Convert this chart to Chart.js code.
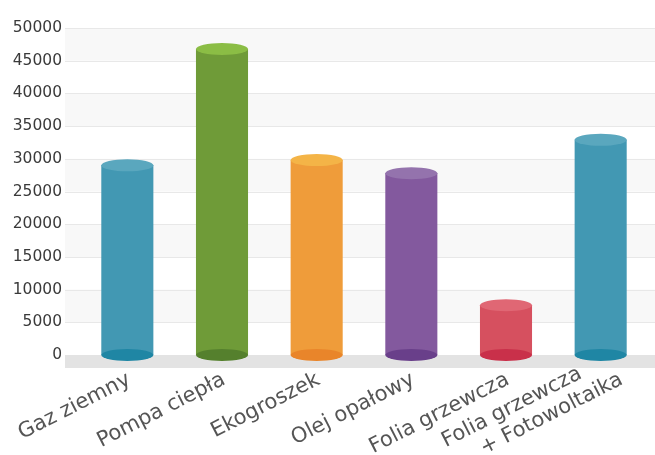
<!DOCTYPE html>
<html>
<head>
<meta charset="utf-8">
<script src="https://cdn.jsdelivr.net/npm/chart.js@4/dist/chart.umd.min.js"></script>
<style>
  html, body { margin: 0; padding: 0; background: #fff; }
  #wrap { width: 655px; height: 455px; }
</style>
</head>
<body>
<div id="wrap"><canvas id="chart" width="655" height="455"></canvas></div>
<script>
// koszty ogrzewania
const categories = [
  "Gaz ziemny",
  "Pompa ciepła",
  "Ekogroszek",
  "Olej opałowy",
  "Folia grzewcza",
  ["Folia grzewcza", "+ Fotowoltaika"],
];
const values = [29000, 46800, 29800, 27800, 7600, 32900];
const yTicks = [0, 5000, 10000, 15000, 20000, 25000, 30000, 35000, 40000, 45000, 50000];

// body, top, bottom colours per cylinder
const bodyColors = ["#4298b3", "#6f9b38", "#ef9c3a", "#83599e", "#d6505f", "#4298b3"];
const topColors = ["#5aa7be", "#8bbd45", "#f4b447", "#9473ad", "#e06774", "#5aa7be"];
const bottomColors = ["#1f86a4", "#55802d", "#e9852a", "#693f8a", "#c9304a", "#1f86a4"];

function shade(ctx, i) {
  const bar = ctx.chart.getDatasetMeta(0).data[i];
  if (!bar || !bar.width) return bodyColors[i];
  const g = ctx.chart.ctx.createLinearGradient(bar.x - bar.width / 2, 0, bar.x + bar.width / 2, 0);
  g.addColorStop(0, bodyColors[i]);
  g.addColorStop(0.35, topColors[i]);
  g.addColorStop(0.7, bodyColors[i]);
  g.addColorStop(1, bottomColors[i]);
  return g;
}

// background bands, grid lines and floor
const backdrop = {
  id: "backdrop",
  beforeDatasetsDraw(chart) {
    const c = chart.ctx;
    const y = chart.scales.y;
    const left = 65, right = chart.width;
    c.save();
    for (let i = 0; i < yTicks.length - 1; i++) {
      if ((yTicks.length - 2 - i) % 2 === 0) {
        const y1 = y.getPixelForValue(yTicks[i + 1]);
        const y0 = y.getPixelForValue(yTicks[i]);
        c.fillStyle = "#f8f8f8";
        c.fillRect(left, y1, right - left, y0 - y1);
      }
    }
    c.strokeStyle = "#e8e8e8";
    c.lineWidth = 1;
    yTicks.forEach((v) => {
      const py = Math.round(y.getPixelForValue(v)) + 0.5;
      c.beginPath();
      c.moveTo(left, py);
      c.lineTo(right, py);
      c.stroke();
    });
    const zero = y.getPixelForValue(0);
    c.fillStyle = "#e3e3e3";
    c.fillRect(left, zero, right - left, 13);
    c.restore();
  },
  afterDatasetsDraw(chart) {
    const c = chart.ctx;
    const ry = 6;
    c.save();
    chart.getDatasetMeta(0).data.forEach((bar, i) => {
      const rx = bar.width / 2;
      c.fillStyle = bottomColors[i];
      c.beginPath();
      c.ellipse(bar.x, bar.base, rx, ry, 0, 0, Math.PI * 2);
      c.fill();
      c.fillStyle = topColors[i];
      c.beginPath();
      c.ellipse(bar.x, bar.y, rx, ry, 0, 0, Math.PI * 2);
      c.fill();
    });
    c.restore();
  },
};

// rotated category labels (the two-line one is staggered like in the original)
const xLabels = {
  id: "xLabels",
  afterDraw(chart) {
    const c = chart.ctx;
    const x = chart.scales.x;
    const ang = (27 * Math.PI) / 180;
    c.save();
    c.font = "21px 'DejaVu Sans'";
    c.fillStyle = "#555";
    c.textAlign = "right";
    c.textBaseline = "middle";
    categories.forEach((label, i) => {
      const lines = Array.isArray(label) ? label : [label];
      c.save();
      c.translate(x.getPixelForTick(i) - 4, x.top + 12);
      c.rotate(-ang);
      if (lines.length === 1) {
        c.fillText(lines[0], 0, 13);
      } else {
        lines.forEach((line, j) => {
          const k = j - (lines.length - 1) / 2;
          c.fillText(line, k * 34, 9.5 + k * 24);
        });
      }
      c.restore();
    });
    c.restore();
  },
};

new Chart(document.getElementById("chart"), {
  type: "bar",
  data: {
    labels: categories,
    datasets: [
      {
        data: values,
        backgroundColor: (ctx) => shade(ctx, ctx.dataIndex),
        borderWidth: 0,
        barPercentage: 0.55,
        categoryPercentage: 1,
      },
    ],
  },
  options: {
    responsive: false,
    animation: false,
    layout: { padding: { top: 28, right: 7, left: 0, bottom: 0 } },
    plugins: { legend: { display: false }, tooltip: { enabled: false } },
    scales: {
      y: {
        min: 0,
        max: 50000,
        afterFit: (s) => { s.width = 80; },
        afterBuildTicks: (s) => { s.ticks = yTicks.map((v) => ({ value: v })); },
        grid: { display: false, drawTicks: false },
        border: { display: false },
        ticks: {
          padding: 18,
          color: "#3a3a3a",
          font: { family: "DejaVu Sans", size: 15.5 },
          callback: (v) => String(v),
        },
      },
      x: {
        afterFit: (s) => { s.height = 100; },
        grid: { display: false, drawTicks: false },
        border: { display: false },
        ticks: { display: false },
      },
    },
  },
  plugins: [backdrop, xLabels],
});
</script>
</body>
</html>
